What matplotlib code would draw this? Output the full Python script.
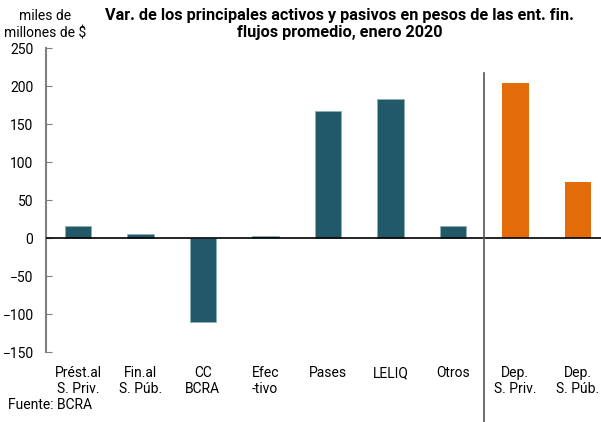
import matplotlib
matplotlib.use("Agg")
import matplotlib.pyplot as plt
import numpy as np

plt.rcParams['font.family'] = ['Roboto', 'DejaVu Sans']

# data (miles de millones de $)
categorias = ["Prést.al\nS. Priv.", "Fin.al\nS. Púb.", "CC\nBCRA", "Efec\n-tivo",
              "Pases", "LELIQ", "Otros", "Dep.\nS. Priv.", "Dep.\nS. Púb."]
activos = [16, 5, -111, 3, 167, 183, 16]
pasivos = [204, 74]

teal = "#215968"
orange = "#E36C0A"

fig = plt.figure(figsize=(6.01, 4.22), dpi=100)
ax = fig.add_axes([46 / 601, 1 - 352 / 422, 1 - 46 / 601, (352 - 48) / 422])

x_act = np.arange(len(activos))
x_pas = np.arange(len(activos), len(activos) + len(pasivos))
ax.bar(x_act, activos, width=0.42, color=teal, edgecolor="#8fb0b8", linewidth=0.6, zorder=2)
ax.bar(x_pas, pasivos, width=0.42, color=orange, zorder=2)

ax.set_xlim(-0.51, 8.37)
ax.set_ylim(-150, 250)
ax.set_yticks(np.arange(-150, 251, 50))
ax.axhline(0, color="black", lw=1.2, zorder=3)

# divider between assets and liabilities
ax.plot([6.5, 6.5], [217, -243], color="#555555", lw=1.2, clip_on=False, zorder=3)

ax.set_xticks(np.arange(len(categorias)))
ax.set_xticklabels(categorias, fontsize=10, linespacing=1.15)
ax.tick_params(axis="x", length=0, pad=10)
ax.tick_params(axis="y", direction="in", length=4, color="#7f7f7f", labelsize=10, pad=9)

for s in ["top", "right", "bottom"]:
    ax.spines[s].set_visible(False)
ax.spines["left"].set_color("#7f7f7f")
ax.spines["left"].set_linewidth(1.5)

fig.text(0.565, 1 - 24 / 422, "Var. de los principales activos y pasivos en pesos de las ent. fin.\nflujos promedio, enero 2020",
         ha="center", va="center", fontsize=11.7, fontweight="bold", linespacing=1.2)
fig.text(45 / 601, 1 - 25 / 422, "miles de\nmillones de $", ha="center", va="center", fontsize=10, linespacing=1.3)
fig.text(8 / 601, 1 - 405 / 422, "Fuente: BCRA", ha="left", va="center", fontsize=10)

fig.savefig("out.png", dpi=100)
